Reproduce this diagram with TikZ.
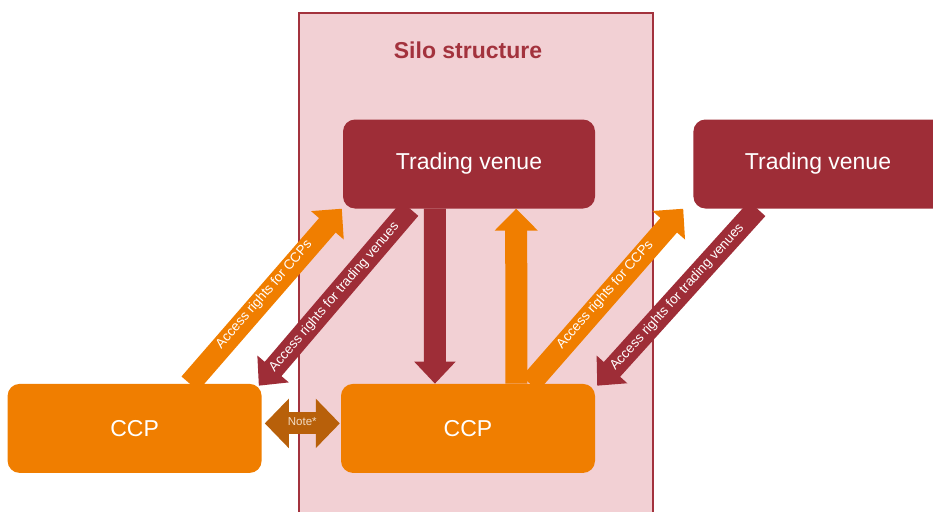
\documentclass[tikz,border=0pt]{standalone}
\usepackage{fontspec}
\setmainfont{Liberation Sans}
\usetikzlibrary{arrows.meta, positioning, calc}
\definecolor{Venue}{HTML}{9E2D37}
\definecolor{Ccp}{HTML}{F07E00}
\definecolor{SiloFill}{HTML}{F2D0D4}
\definecolor{SiloLine}{HTML}{A3323D}
\definecolor{NoteBrown}{HTML}{B8600A}
\definecolor{NoteText}{HTML}{F3DCC4}

\begin{document}
\begin{tikzpicture}[
    x=1pt, y=-1pt,
    every node/.style={font=\fontsize{23}{27}\selectfont},
    silo/.style={rectangle, draw=SiloLine, fill=SiloFill, line width=1.8pt, minimum width=354pt, minimum height=520pt, inner sep=0pt, anchor=north west},
    venue/.style={rectangle, rounded corners=12pt, fill=Venue, text=white, minimum width=252pt, minimum height=89pt, inner sep=0pt},
    ccp/.style={rectangle, rounded corners=12pt, fill=Ccp, text=white, minimum width=254pt, minimum height=89pt, inner sep=0pt},
    redarrow/.style={-{Triangle[length=22pt, width=40pt]}, draw=Venue, line width=22pt},
    orangearrow/.style={-{Triangle[length=22pt, width=42pt]}, draw=Ccp, line width=22pt},
    notearrow/.style={{Triangle[length=24pt, width=48pt]}-{Triangle[length=24pt, width=48pt]}, draw=NoteBrown, line width=22pt},
    lbl/.style={font=\fontsize{13.5}{15}\selectfont, text=white, sloped, midway, inner sep=0pt}
]
\clip (0,0) rectangle (933,511);

% Silo structure
\node[silo] (silo) at (298,12) {};
\node[font=\bfseries\fontsize{23}{27}\selectfont, text=SiloLine] (title) at (468,50) {Silo structure};

% Trading venues
\node[venue] (tv1) at (469,164) {Trading venue};
\node[venue, minimum width=260pt, right=98pt of tv1] (tv2) {};
\node[text=white] (tv2txt) at (818,164) {Trading venue};

% CCPs
\node[ccp, below=175pt of tv1, xshift=-1pt] (ccpM) {CCP};
\node[ccp, left=79pt of ccpM] (ccpL) {CCP};

% Arrows inside the silo
\draw[redarrow] ($(tv1.south west)!0.365!(tv1.south east)$) -- ($(ccpM.north west)!0.37!(ccpM.north east)$);
\draw[orangearrow] ($(ccpM.north west)!0.69!(ccpM.north east)$) -- ($(tv1.south west)!0.687!(tv1.south east)$);

% Access rights, left
\draw[orangearrow] ($(ccpL.north west)!0.717!(ccpL.north east)$) -- ($(tv1.south west)+(-1,0)$)
    node[lbl, yshift=2pt] {Access rights for CCPs};
\draw[redarrow] ($(tv1.south west)!0.266!(tv1.south east)$) -- ($(ccpL.north east)+(-3,2)$)
    node[lbl] {Access rights for trading venues};

% Access rights, right
\draw[orangearrow] ($(ccpM.north west)!0.744!(ccpM.north east)$) -- ($(tv2.south west)+(-10,0)$)
    node[lbl, yshift=2pt] {Access rights for CCPs};
\draw[redarrow] ($(tv2.south west)+(64,0)$) -- ($(ccpM.north east)+(2,2)$)
    node[lbl] {Access rights for trading venues};

% Note
\draw[notearrow] ($(ccpL.east)+(3,-5)$) -- ($(ccpM.west)+(-1,-5)$)
    node[midway, text=NoteText, font=\fontsize{11.5}{13}\selectfont, yshift=2pt] (note) {Note*};

\end{tikzpicture}
\end{document}
